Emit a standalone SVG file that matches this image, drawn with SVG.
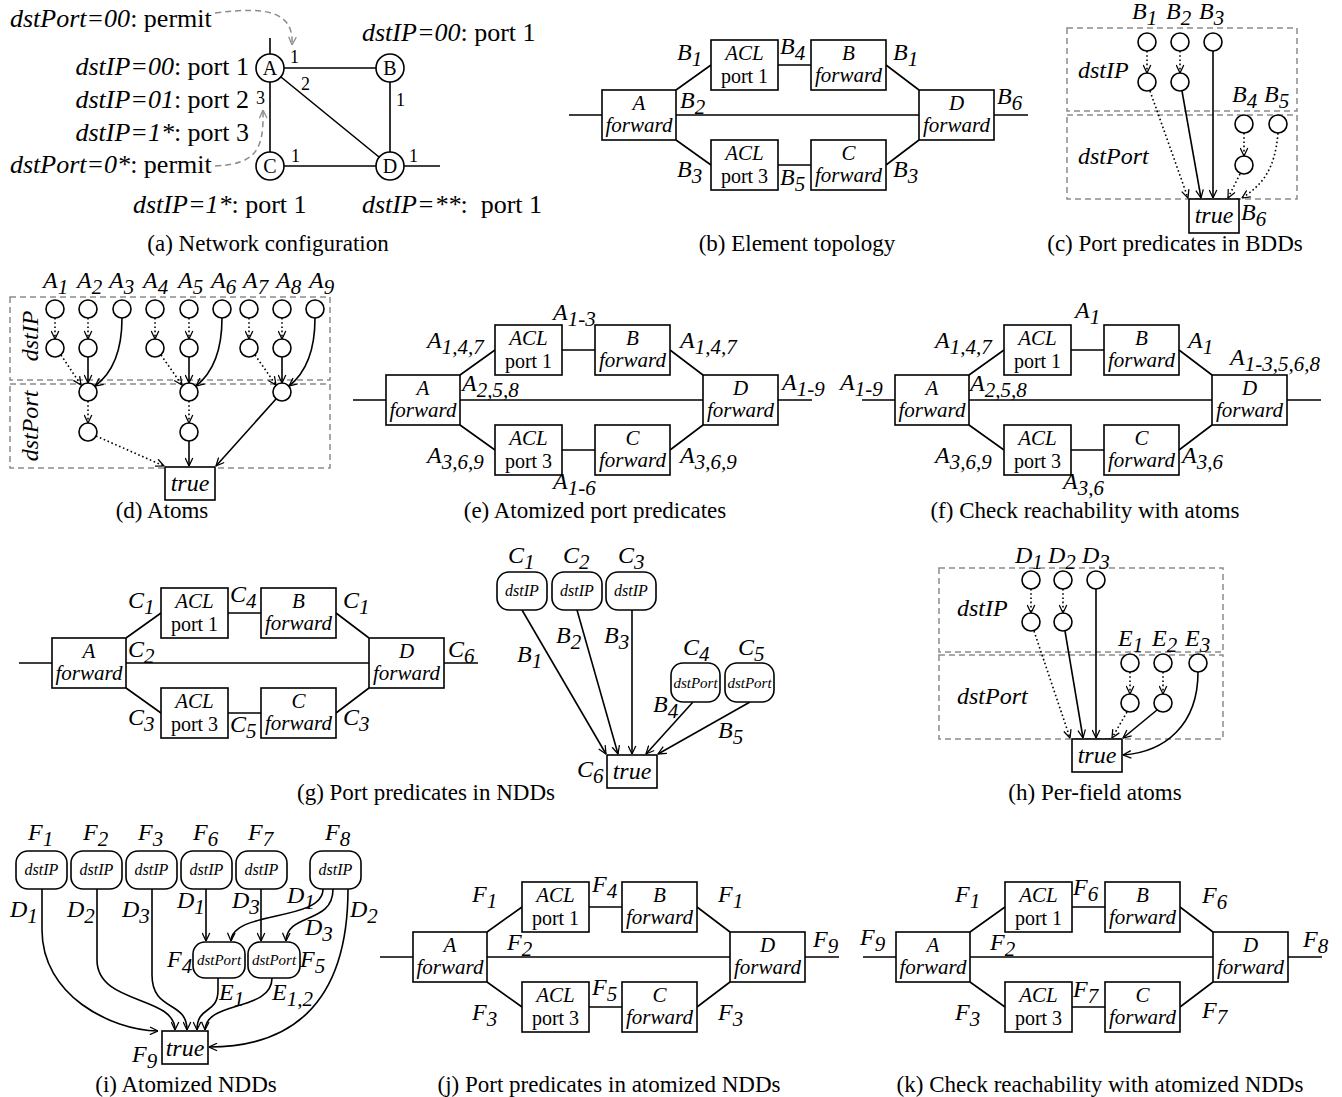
<svg xmlns="http://www.w3.org/2000/svg" width="1342" height="1097" viewBox="0 0 1342 1097">
<defs>
<style>
text{font-family:"Liberation Serif","Times New Roman",serif;fill:#000}
.lb{font-size:24px;font-style:italic}
.sb{font-size:21px}
.cap{font-size:23px;text-anchor:middle}
.bx{font-size:20px;text-anchor:middle}
.it{font-style:italic}
.bx.it{font-size:21px}
.cf{font-size:26px}
.pn{font-size:18px}
.nl{font-size:20px;text-anchor:middle}
.box{fill:#fff;stroke:#000;stroke-width:1.6}
.nd{fill:#fff;stroke:#000;stroke-width:1.6}
.ln{fill:none;stroke:#000;stroke-width:1.6}
.dt{fill:none;stroke:#000;stroke-width:1.6;stroke-dasharray:1.6 2.6}
.gd{fill:none;stroke:#8c8c8c;stroke-width:1.5;stroke-dasharray:6 4}
.fb{fill:none;stroke:#8c8c8c;stroke-width:1.5;stroke-dasharray:6 4}
.ar{marker-end:url(#ah)}
.rt{font-size:16px;font-style:italic;text-anchor:middle}
.rp{font-size:15px;font-style:italic;text-anchor:middle}
.tr{font-size:24px;font-style:italic;text-anchor:middle}
</style>
<marker id="ah" viewBox="0 0 10 10" refX="9.5" refY="5" markerWidth="9" markerHeight="9" markerUnits="userSpaceOnUse" orient="auto">
<path d="M0.5,0.8 L9.5,5 L0.5,9.2" fill="none" stroke="#000" stroke-width="1.4" stroke-dasharray="none"/>
</marker>
<marker id="ahg" viewBox="0 0 10 10" refX="9.5" refY="5" markerWidth="9" markerHeight="9" markerUnits="userSpaceOnUse" orient="auto">
<path d="M0.5,0.8 L9.5,5 L0.5,9.2" fill="none" stroke="#8c8c8c" stroke-width="1.4" stroke-dasharray="none"/>
</marker>
</defs>
<rect width="1342" height="1097" fill="#fff"/>

<!-- (a) Network configuration -->
<g id="panel-a">
 <g id="a-connectors">
  <path class="ln" d="M270,38V54 M284,68H376 M281,77L379,157 M270,82V152 M390,82V152 M284,166H376 M404,166H440"/>
  <path class="gd" d="M215,13 C268,6 294,12 292,45" marker-end="url(#ahg)"/>
  <path class="gd" d="M215,166 C256,164 264,150 263,110" marker-end="url(#ahg)"/>
 </g>
 <g id="a-A"><circle class="nd" cx="270" cy="68" r="14"/><text class="nl" x="270" y="75">A</text></g>
 <g id="a-B"><circle class="nd" cx="390" cy="68" r="14"/><text class="nl" x="390" y="75">B</text></g>
 <g id="a-C"><circle class="nd" cx="270" cy="166" r="14"/><text class="nl" x="270" y="173">C</text></g>
 <g id="a-D"><circle class="nd" cx="390" cy="166" r="14"/><text class="nl" x="390" y="173">D</text></g>
 <text class="pn" x="290" y="63">1</text>
 <text class="pn" x="301" y="90">2</text>
 <text class="pn" x="256" y="104">3</text>
 <text class="pn" x="396" y="106">1</text>
 <text class="pn" x="291" y="162">1</text>
 <text class="pn" x="409" y="162">1</text>
 <text class="cf" x="10" y="27"><tspan class="it">dstPort=00</tspan>: permit</text>
 <text class="cf" x="249" y="75" text-anchor="end"><tspan class="it">dstIP=00</tspan>: port 1</text>
 <text class="cf" x="249" y="108" text-anchor="end"><tspan class="it">dstIP=01</tspan>: port 2</text>
 <text class="cf" x="249" y="141" text-anchor="end"><tspan class="it">dstIP=1*</tspan>: port 3</text>
 <text class="cf" x="10" y="173"><tspan class="it">dstPort=0*</tspan>: permit</text>
 <text class="cf" x="362" y="41"><tspan class="it">dstIP=00</tspan>: port 1</text>
 <text class="cf" x="133" y="213"><tspan class="it">dstIP=1*</tspan>: port 1</text>
 <text class="cf" x="362" y="213" style="white-space:pre"><tspan class="it">dstIP=**</tspan>:  port 1</text>
 <text class="cap" x="268" y="251">(a) Network configuration</text>
</g>

<!-- (b) Element topology -->
<g id="panel-b" transform="translate(602,90)">
 <g id="b-links"><path class="ln" d="M-33,25H0M74,25H317M392,25H426M74,0L109,-25M176,-25H209M284,-25L317,0M74,50L109,75M176,75H209M284,75L317,50"/></g>
 <g id="b-A"><rect class="box" x="0" y="0" width="74" height="50"/><text class="bx it" x="37" y="20">A</text><text class="bx it" x="37" y="42">forward</text></g>
 <g id="b-acl1"><rect class="box" x="109" y="-50" width="67" height="50"/><text class="bx it" x="142.5" y="-30">ACL</text><text class="bx" x="142.5" y="-7">port 1</text></g>
 <g id="b-B"><rect class="box" x="209" y="-50" width="75" height="50"/><text class="bx it" x="246.5" y="-30">B</text><text class="bx it" x="246.5" y="-8">forward</text></g>
 <g id="b-D"><rect class="box" x="317" y="0" width="75" height="50"/><text class="bx it" x="354.5" y="20">D</text><text class="bx it" x="354.5" y="42">forward</text></g>
 <g id="b-acl3"><rect class="box" x="109" y="50" width="67" height="50"/><text class="bx it" x="142.5" y="70">ACL</text><text class="bx" x="142.5" y="93">port 3</text></g>
 <g id="b-C"><rect class="box" x="209" y="50" width="75" height="50"/><text class="bx it" x="246.5" y="70">C</text><text class="bx it" x="246.5" y="92">forward</text></g>
 <text class="lb" x="75" y="-30">B<tspan class="sb" dy="6">1</tspan></text>
 <text class="lb" x="178" y="-36">B<tspan class="sb" dy="6">4</tspan></text>
 <text class="lb" x="291" y="-30">B<tspan class="sb" dy="6">1</tspan></text>
 <text class="lb" x="78" y="18">B<tspan class="sb" dy="6">2</tspan></text>
 <text class="lb" x="395" y="14">B<tspan class="sb" dy="6">6</tspan></text>
 <text class="lb" x="75" y="87">B<tspan class="sb" dy="6">3</tspan></text>
 <text class="lb" x="178" y="95">B<tspan class="sb" dy="6">5</tspan></text>
 <text class="lb" x="291" y="87">B<tspan class="sb" dy="6">3</tspan></text>
</g>
<text class="cap" x="797" y="251">(b) Element topology</text>

<!-- (c) Port predicates in BDDs -->
<g id="panel-c">
 <rect class="fb" x="1067" y="28" width="230" height="83"/>
 <rect class="fb" x="1067" y="115" width="230" height="84"/>
 <text class="lb" x="1078" y="78">dstIP</text>
 <text class="lb" x="1078" y="164">dstPort</text>
 <g id="c-edges">
  <path class="dt ar" d="M1147,51V73"/>
  <path class="dt ar" d="M1180,51V73"/>
  <path class="ln ar" d="M1213,51V198"/>
  <path class="dt ar" d="M1150,91L1188,198"/>
  <path class="ln ar" d="M1182,91L1201,198"/>
  <path class="dt ar" d="M1244,133V156"/>
  <path class="dt ar" d="M1240,174L1228,198"/>
  <path class="dt ar" d="M1278,133C1275,170 1262,185 1242,198"/>
 </g>
 <g id="c-n1"><circle class="nd" cx="1147" cy="42" r="9"/></g>
 <g id="c-n2"><circle class="nd" cx="1180" cy="42" r="9"/></g>
 <g id="c-n3"><circle class="nd" cx="1213" cy="42" r="9"/></g>
 <g id="c-n4"><circle class="nd" cx="1147" cy="82" r="9"/></g>
 <g id="c-n5"><circle class="nd" cx="1180" cy="82" r="9"/></g>
 <g id="c-n6"><circle class="nd" cx="1244" cy="124" r="9"/></g>
 <g id="c-n7"><circle class="nd" cx="1278" cy="124" r="9"/></g>
 <g id="c-n8"><circle class="nd" cx="1244" cy="165" r="9"/></g>
 <g id="c-true"><rect class="box" x="1189" y="199" width="50" height="34"/><text class="tr" x="1214" y="223">true</text></g>
 <text class="lb" x="1132" y="19">B<tspan class="sb" dy="6">1</tspan></text>
 <text class="lb" x="1166" y="19">B<tspan class="sb" dy="6">2</tspan></text>
 <text class="lb" x="1199" y="19">B<tspan class="sb" dy="6">3</tspan></text>
 <text class="lb" x="1232" y="102">B<tspan class="sb" dy="6">4</tspan></text>
 <text class="lb" x="1264" y="102">B<tspan class="sb" dy="6">5</tspan></text>
 <text class="lb" x="1241" y="220">B<tspan class="sb" dy="6">6</tspan></text>
 <text class="cap" x="1175" y="251">(c) Port predicates in BDDs</text>
</g>

<!-- (d) Atoms -->
<g id="panel-d">
 <rect class="fb" x="10" y="297" width="320" height="83"/>
 <rect class="fb" x="10" y="384" width="320" height="84"/>
 <text class="lb" x="38" y="336" text-anchor="middle" transform="rotate(-90 38 336)">dstIP</text>
 <text class="lb" x="38" y="426" text-anchor="middle" transform="rotate(-90 38 426)">dstPort</text>
 <g id="d-edges">
  <path class="dt ar" d="M55,318V339"/>
  <path class="dt ar" d="M88,318V339"/>
  <path class="dt ar" d="M155,318V339"/>
  <path class="dt ar" d="M189,318V339"/>
  <path class="dt ar" d="M249,318V339"/>
  <path class="dt ar" d="M282,318V339"/>
  <path class="dt ar" d="M61,355L81,385"/>
  <path class="ln ar" d="M88,357V383"/>
  <path class="ln ar" d="M122,318C122,355 110,375 95,386"/>
  <path class="dt ar" d="M161,355L182,385"/>
  <path class="ln ar" d="M189,357V383"/>
  <path class="ln ar" d="M222,318C222,355 210,375 196,386"/>
  <path class="dt ar" d="M255,355L276,385"/>
  <path class="ln ar" d="M282,357V383"/>
  <path class="ln ar" d="M315,318C315,355 303,375 289,386"/>
  <path class="dt ar" d="M88,401V423"/>
  <path class="dt ar" d="M189,401V423"/>
  <path class="dt ar" d="M96,436L164,466"/>
  <path class="ln ar" d="M189,441V466"/>
  <path class="ln ar" d="M276,399L216,466"/>
 </g>
 <g id="d-r1a"><circle class="nd" cx="55" cy="309" r="9"/></g>
 <g id="d-r1b"><circle class="nd" cx="88" cy="309" r="9"/></g>
 <g id="d-r1c"><circle class="nd" cx="122" cy="309" r="9"/></g>
 <g id="d-r1d"><circle class="nd" cx="155" cy="309" r="9"/></g>
 <g id="d-r1e"><circle class="nd" cx="189" cy="309" r="9"/></g>
 <g id="d-r1f"><circle class="nd" cx="222" cy="309" r="9"/></g>
 <g id="d-r1g"><circle class="nd" cx="249" cy="309" r="9"/></g>
 <g id="d-r1h"><circle class="nd" cx="282" cy="309" r="9"/></g>
 <g id="d-r1i"><circle class="nd" cx="315" cy="309" r="9"/></g>
 <g id="d-r2a"><circle class="nd" cx="55" cy="348" r="9"/></g>
 <g id="d-r2b"><circle class="nd" cx="88" cy="348" r="9"/></g>
 <g id="d-r2c"><circle class="nd" cx="155" cy="348" r="9"/></g>
 <g id="d-r2d"><circle class="nd" cx="189" cy="348" r="9"/></g>
 <g id="d-r2e"><circle class="nd" cx="249" cy="348" r="9"/></g>
 <g id="d-r2f"><circle class="nd" cx="282" cy="348" r="9"/></g>
 <g id="d-r3a"><circle class="nd" cx="88" cy="392" r="9"/></g>
 <g id="d-r3b"><circle class="nd" cx="189" cy="392" r="9"/></g>
 <g id="d-r3c"><circle class="nd" cx="282" cy="392" r="9"/></g>
 <g id="d-r4a"><circle class="nd" cx="88" cy="432" r="9"/></g>
 <g id="d-r4b"><circle class="nd" cx="189" cy="432" r="9"/></g>
 <g id="d-true"><rect class="box" x="165" y="467" width="50" height="33"/><text class="tr" x="190" y="491">true</text></g>
 <text class="lb" x="43" y="288">A<tspan class="sb" dy="6">1</tspan></text>
 <text class="lb" x="77" y="288">A<tspan class="sb" dy="6">2</tspan></text>
 <text class="lb" x="109" y="288">A<tspan class="sb" dy="6">3</tspan></text>
 <text class="lb" x="143" y="288">A<tspan class="sb" dy="6">4</tspan></text>
 <text class="lb" x="178" y="288">A<tspan class="sb" dy="6">5</tspan></text>
 <text class="lb" x="211" y="288">A<tspan class="sb" dy="6">6</tspan></text>
 <text class="lb" x="243" y="288">A<tspan class="sb" dy="6">7</tspan></text>
 <text class="lb" x="276" y="288">A<tspan class="sb" dy="6">8</tspan></text>
 <text class="lb" x="309" y="288">A<tspan class="sb" dy="6">9</tspan></text>
 <text class="cap" x="162" y="518">(d) Atoms</text>
</g>

<!-- (e) Atomized port predicates -->
<g id="panel-e" transform="translate(386,375)">
 <g id="e-links"><path class="ln" d="M-33,25H0M74,25H317M392,25H426M74,0L109,-25M176,-25H209M284,-25L317,0M74,50L109,75M176,75H209M284,75L317,50"/></g>
 <g id="e-A"><rect class="box" x="0" y="0" width="74" height="50"/><text class="bx it" x="37" y="20">A</text><text class="bx it" x="37" y="42">forward</text></g>
 <g id="e-acl1"><rect class="box" x="109" y="-50" width="67" height="50"/><text class="bx it" x="142.5" y="-30">ACL</text><text class="bx" x="142.5" y="-7">port 1</text></g>
 <g id="e-B"><rect class="box" x="209" y="-50" width="75" height="50"/><text class="bx it" x="246.5" y="-30">B</text><text class="bx it" x="246.5" y="-8">forward</text></g>
 <g id="e-D"><rect class="box" x="317" y="0" width="75" height="50"/><text class="bx it" x="354.5" y="20">D</text><text class="bx it" x="354.5" y="42">forward</text></g>
 <g id="e-acl3"><rect class="box" x="109" y="50" width="67" height="50"/><text class="bx it" x="142.5" y="70">ACL</text><text class="bx" x="142.5" y="93">port 3</text></g>
 <g id="e-C"><rect class="box" x="209" y="50" width="75" height="50"/><text class="bx it" x="246.5" y="70">C</text><text class="bx it" x="246.5" y="92">forward</text></g>
 <text class="lb" x="167" y="-55">A<tspan class="sb" dy="6">1-3</tspan></text>
 <text class="lb" x="41" y="-27">A<tspan class="sb" dy="6">1,4,7</tspan></text>
 <text class="lb" x="294" y="-27">A<tspan class="sb" dy="6">1,4,7</tspan></text>
 <text class="lb" x="76" y="16">A<tspan class="sb" dy="6">2,5,8</tspan></text>
 <text class="lb" x="396" y="15">A<tspan class="sb" dy="6">1-9</tspan></text>
 <text class="lb" x="41" y="88">A<tspan class="sb" dy="6">3,6,9</tspan></text>
 <text class="lb" x="294" y="88">A<tspan class="sb" dy="6">3,6,9</tspan></text>
 <text class="lb" x="167" y="114">A<tspan class="sb" dy="6">1-6</tspan></text>
</g>
<text class="cap" x="595" y="518">(e) Atomized port predicates</text>

<!-- (f) Check reachability with atoms -->
<g id="panel-f" transform="translate(895,375)">
 <g id="f-links"><path class="ln" d="M-33,25H0M74,25H317M392,25H426M74,0L109,-25M176,-25H209M284,-25L317,0M74,50L109,75M176,75H209M284,75L317,50"/></g>
 <g id="f-A"><rect class="box" x="0" y="0" width="74" height="50"/><text class="bx it" x="37" y="20">A</text><text class="bx it" x="37" y="42">forward</text></g>
 <g id="f-acl1"><rect class="box" x="109" y="-50" width="67" height="50"/><text class="bx it" x="142.5" y="-30">ACL</text><text class="bx" x="142.5" y="-7">port 1</text></g>
 <g id="f-B"><rect class="box" x="209" y="-50" width="75" height="50"/><text class="bx it" x="246.5" y="-30">B</text><text class="bx it" x="246.5" y="-8">forward</text></g>
 <g id="f-D"><rect class="box" x="317" y="0" width="75" height="50"/><text class="bx it" x="354.5" y="20">D</text><text class="bx it" x="354.5" y="42">forward</text></g>
 <g id="f-acl3"><rect class="box" x="109" y="50" width="67" height="50"/><text class="bx it" x="142.5" y="70">ACL</text><text class="bx" x="142.5" y="93">port 3</text></g>
 <g id="f-C"><rect class="box" x="209" y="50" width="75" height="50"/><text class="bx it" x="246.5" y="70">C</text><text class="bx it" x="246.5" y="92">forward</text></g>
 <text class="lb" x="180" y="-57">A<tspan class="sb" dy="6">1</tspan></text>
 <text class="lb" x="40" y="-27">A<tspan class="sb" dy="6">1,4,7</tspan></text>
 <text class="lb" x="293" y="-27">A<tspan class="sb" dy="6">1</tspan></text>
 <text class="lb" x="335" y="-10">A<tspan class="sb" dy="6">1-3,5,6,8</tspan></text>
 <text class="lb" x="-55" y="15">A<tspan class="sb" dy="6">1-9</tspan></text>
 <text class="lb" x="75" y="16">A<tspan class="sb" dy="6">2,5,8</tspan></text>
 <text class="lb" x="40" y="88">A<tspan class="sb" dy="6">3,6,9</tspan></text>
 <text class="lb" x="287" y="88">A<tspan class="sb" dy="6">3,6</tspan></text>
 <text class="lb" x="168" y="114">A<tspan class="sb" dy="6">3,6</tspan></text>
</g>
<text class="cap" x="1085" y="518">(f) Check reachability with atoms</text>

<!-- (g) Port predicates in NDDs: topology -->
<g id="panel-g" transform="translate(52,638)">
 <g id="g-links"><path class="ln" d="M-33,25H0M74,25H317M392,25H426M74,0L109,-25M176,-25H209M284,-25L317,0M74,50L109,75M176,75H209M284,75L317,50"/></g>
 <g id="g-A"><rect class="box" x="0" y="0" width="74" height="50"/><text class="bx it" x="37" y="20">A</text><text class="bx it" x="37" y="42">forward</text></g>
 <g id="g-acl1"><rect class="box" x="109" y="-50" width="67" height="50"/><text class="bx it" x="142.5" y="-30">ACL</text><text class="bx" x="142.5" y="-7">port 1</text></g>
 <g id="g-B"><rect class="box" x="209" y="-50" width="75" height="50"/><text class="bx it" x="246.5" y="-30">B</text><text class="bx it" x="246.5" y="-8">forward</text></g>
 <g id="g-D"><rect class="box" x="317" y="0" width="75" height="50"/><text class="bx it" x="354.5" y="20">D</text><text class="bx it" x="354.5" y="42">forward</text></g>
 <g id="g-acl3"><rect class="box" x="109" y="50" width="67" height="50"/><text class="bx it" x="142.5" y="70">ACL</text><text class="bx" x="142.5" y="93">port 3</text></g>
 <g id="g-C"><rect class="box" x="209" y="50" width="75" height="50"/><text class="bx it" x="246.5" y="70">C</text><text class="bx it" x="246.5" y="92">forward</text></g>
 <text class="lb" x="76" y="-30">C<tspan class="sb" dy="6">1</tspan></text>
 <text class="lb" x="178" y="-36">C<tspan class="sb" dy="6">4</tspan></text>
 <text class="lb" x="291" y="-30">C<tspan class="sb" dy="6">1</tspan></text>
 <text class="lb" x="76" y="19">C<tspan class="sb" dy="6">2</tspan></text>
 <text class="lb" x="396" y="19">C<tspan class="sb" dy="6">6</tspan></text>
 <text class="lb" x="76" y="87">C<tspan class="sb" dy="6">3</tspan></text>
 <text class="lb" x="178" y="94">C<tspan class="sb" dy="6">5</tspan></text>
 <text class="lb" x="291" y="87">C<tspan class="sb" dy="6">3</tspan></text>
</g>

<!-- (g) NDD -->
<g id="panel-g-ndd">
 <g id="g-ndd-edges">
  <path class="ln ar" d="M522,610L606,754"/>
  <path class="ln ar" d="M577,610L618,754"/>
  <path class="ln ar" d="M632,610V754"/>
  <path class="ln ar" d="M693,702L646,754"/>
  <path class="ln ar" d="M750,702L658,754"/>
 </g>
 <g id="g-c1"><rect class="box" x="497" y="572" width="50" height="38" rx="12"/><text class="rt" x="522" y="596">dstIP</text></g>
 <g id="g-c2"><rect class="box" x="552" y="572" width="50" height="38" rx="12"/><text class="rt" x="577" y="596">dstIP</text></g>
 <g id="g-c3"><rect class="box" x="606" y="572" width="50" height="38" rx="12"/><text class="rt" x="631" y="596">dstIP</text></g>
 <g id="g-c4"><rect class="box" x="671" y="663" width="49" height="39" rx="12"/><text class="rp" x="695.5" y="688">dstPort</text></g>
 <g id="g-c5"><rect class="box" x="725" y="663" width="49" height="39" rx="12"/><text class="rp" x="749.5" y="688">dstPort</text></g>
 <g id="g-c6"><rect class="box" x="607" y="755" width="50" height="33"/><text class="tr" x="632" y="779">true</text></g>
 <text class="lb" x="508" y="563">C<tspan class="sb" dy="6">1</tspan></text>
 <text class="lb" x="563" y="563">C<tspan class="sb" dy="6">2</tspan></text>
 <text class="lb" x="618" y="563">C<tspan class="sb" dy="6">3</tspan></text>
 <text class="lb" x="683" y="655">C<tspan class="sb" dy="6">4</tspan></text>
 <text class="lb" x="738" y="655">C<tspan class="sb" dy="6">5</tspan></text>
 <text class="lb" x="577" y="777">C<tspan class="sb" dy="6">6</tspan></text>
 <text class="lb" x="517" y="662">B<tspan class="sb" dy="6">1</tspan></text>
 <text class="lb" x="556" y="643">B<tspan class="sb" dy="6">2</tspan></text>
 <text class="lb" x="604" y="643">B<tspan class="sb" dy="6">3</tspan></text>
 <text class="lb" x="653" y="712">B<tspan class="sb" dy="6">4</tspan></text>
 <text class="lb" x="718" y="738">B<tspan class="sb" dy="6">5</tspan></text>
</g>
<text class="cap" x="426" y="800">(g) Port predicates in NDDs</text>

<!-- (h) Per-field atoms -->
<g id="panel-h">
 <rect class="fb" x="939" y="568" width="284" height="84"/>
 <rect class="fb" x="939" y="655" width="284" height="84"/>
 <text class="lb" x="957" y="616">dstIP</text>
 <text class="lb" x="957" y="704">dstPort</text>
 <g id="h-edges">
  <path class="dt ar" d="M1031,589V613"/>
  <path class="dt ar" d="M1063,589V613"/>
  <path class="ln ar" d="M1096,589V738"/>
  <path class="dt ar" d="M1034,631L1070,738"/>
  <path class="ln ar" d="M1065,631L1083,738"/>
  <path class="dt ar" d="M1130,672V694"/>
  <path class="dt ar" d="M1163,672V694"/>
  <path class="dt ar" d="M1127,712L1112,738"/>
  <path class="ln ar" d="M1157,710L1123,738"/>
  <path class="ln ar" d="M1198,672C1198,725 1165,752 1123,755"/>
 </g>
 <g id="h-d1"><circle class="nd" cx="1031" cy="580" r="9"/></g>
 <g id="h-d2"><circle class="nd" cx="1063" cy="580" r="9"/></g>
 <g id="h-d3"><circle class="nd" cx="1096" cy="580" r="9"/></g>
 <g id="h-d1b"><circle class="nd" cx="1031" cy="622" r="9"/></g>
 <g id="h-d2b"><circle class="nd" cx="1063" cy="622" r="9"/></g>
 <g id="h-e1"><circle class="nd" cx="1130" cy="663" r="9"/></g>
 <g id="h-e2"><circle class="nd" cx="1163" cy="663" r="9"/></g>
 <g id="h-e3"><circle class="nd" cx="1198" cy="663" r="9"/></g>
 <g id="h-e1b"><circle class="nd" cx="1130" cy="703" r="9"/></g>
 <g id="h-e2b"><circle class="nd" cx="1163" cy="703" r="9"/></g>
 <g id="h-true"><rect class="box" x="1072" y="739" width="50" height="33"/><text class="tr" x="1097" y="763">true</text></g>
 <text class="lb" x="1015" y="563">D<tspan class="sb" dy="6">1</tspan></text>
 <text class="lb" x="1048" y="563">D<tspan class="sb" dy="6">2</tspan></text>
 <text class="lb" x="1082" y="563">D<tspan class="sb" dy="6">3</tspan></text>
 <text class="lb" x="1118" y="646">E<tspan class="sb" dy="6">1</tspan></text>
 <text class="lb" x="1152" y="646">E<tspan class="sb" dy="6">2</tspan></text>
 <text class="lb" x="1185" y="646">E<tspan class="sb" dy="6">3</tspan></text>
 <text class="cap" x="1095" y="800">(h) Per-field atoms</text>
</g>

<!-- (i) Atomized NDDs -->
<g id="panel-i">
 <g id="i-edges">
  <path class="ln ar" d="M42,889V930C42,995 110,1030 158,1031"/>
  <path class="ln ar" d="M97,889V960C97,1005 175,995 175,1030"/>
  <path class="ln ar" d="M152,889V975C152,1012 187,1000 187,1030"/>
  <path class="ln ar" d="M206,889V941"/>
  <path class="ln ar" d="M261,889V941"/>
  <path class="ln ar" d="M323,889C323,922 232,910 231,941"/>
  <path class="ln ar" d="M333,889C333,925 287,912 286,941"/>
  <path class="ln ar" d="M348,889C348,1010 285,1047 209,1047"/>
  <path class="ln ar" d="M218,978V990C218,1015 197,1005 197,1030"/>
  <path class="ln ar" d="M272,978C272,1012 206,1000 205,1030"/>
 </g>
 <g id="i-f1"><rect class="box" x="16" y="851" width="51" height="38" rx="12"/><text class="rt" x="41.5" y="875">dstIP</text></g>
 <g id="i-f2"><rect class="box" x="71" y="851" width="51" height="38" rx="12"/><text class="rt" x="96.5" y="875">dstIP</text></g>
 <g id="i-f3"><rect class="box" x="126" y="851" width="51" height="38" rx="12"/><text class="rt" x="151.5" y="875">dstIP</text></g>
 <g id="i-f6"><rect class="box" x="181" y="851" width="51" height="38" rx="12"/><text class="rt" x="206.5" y="875">dstIP</text></g>
 <g id="i-f7"><rect class="box" x="236" y="851" width="51" height="38" rx="12"/><text class="rt" x="261.5" y="875">dstIP</text></g>
 <g id="i-f8"><rect class="box" x="310" y="851" width="51" height="38" rx="12"/><text class="rt" x="335.5" y="875">dstIP</text></g>
 <g id="i-f4"><rect class="box" x="193" y="942" width="52" height="36" rx="12"/><text class="rp" x="219" y="965">dstPort</text></g>
 <g id="i-f5"><rect class="box" x="248" y="942" width="52" height="36" rx="12"/><text class="rp" x="274" y="965">dstPort</text></g>
 <g id="i-f9"><rect class="box" x="162" y="1031" width="46" height="33"/><text class="tr" x="185" y="1056">true</text></g>
 <text class="lb" x="28" y="840">F<tspan class="sb" dy="6">1</tspan></text>
 <text class="lb" x="83" y="840">F<tspan class="sb" dy="6">2</tspan></text>
 <text class="lb" x="138" y="840">F<tspan class="sb" dy="6">3</tspan></text>
 <text class="lb" x="193" y="840">F<tspan class="sb" dy="6">6</tspan></text>
 <text class="lb" x="248" y="840">F<tspan class="sb" dy="6">7</tspan></text>
 <text class="lb" x="325" y="840">F<tspan class="sb" dy="6">8</tspan></text>
 <text class="lb" x="167" y="967">F<tspan class="sb" dy="6">4</tspan></text>
 <text class="lb" x="300" y="967">F<tspan class="sb" dy="6">5</tspan></text>
 <text class="lb" x="132" y="1062">F<tspan class="sb" dy="6">9</tspan></text>
 <text class="lb" x="10" y="917">D<tspan class="sb" dy="6">1</tspan></text>
 <text class="lb" x="67" y="917">D<tspan class="sb" dy="6">2</tspan></text>
 <text class="lb" x="122" y="917">D<tspan class="sb" dy="6">3</tspan></text>
 <text class="lb" x="177" y="908">D<tspan class="sb" dy="6">1</tspan></text>
 <text class="lb" x="232" y="908">D<tspan class="sb" dy="6">3</tspan></text>
 <text class="lb" x="287" y="903">D<tspan class="sb" dy="6">1</tspan></text>
 <text class="lb" x="305" y="935">D<tspan class="sb" dy="6">3</tspan></text>
 <text class="lb" x="350" y="917">D<tspan class="sb" dy="6">2</tspan></text>
 <text class="lb" x="219" y="1000">E<tspan class="sb" dy="6">1</tspan></text>
 <text class="lb" x="272" y="1000">E<tspan class="sb" dy="6">1,2</tspan></text>
 <text class="cap" x="186" y="1092">(i) Atomized NDDs</text>
</g>

<!-- (j) Port predicates in atomized NDDs -->
<g id="panel-j" transform="translate(413,932)">
 <g id="j-links"><path class="ln" d="M-33,25H0M74,25H317M392,25H426M74,0L109,-25M176,-25H209M284,-25L317,0M74,50L109,75M176,75H209M284,75L317,50"/></g>
 <g id="j-A"><rect class="box" x="0" y="0" width="74" height="50"/><text class="bx it" x="37" y="20">A</text><text class="bx it" x="37" y="42">forward</text></g>
 <g id="j-acl1"><rect class="box" x="109" y="-50" width="67" height="50"/><text class="bx it" x="142.5" y="-30">ACL</text><text class="bx" x="142.5" y="-7">port 1</text></g>
 <g id="j-B"><rect class="box" x="209" y="-50" width="75" height="50"/><text class="bx it" x="246.5" y="-30">B</text><text class="bx it" x="246.5" y="-8">forward</text></g>
 <g id="j-D"><rect class="box" x="317" y="0" width="75" height="50"/><text class="bx it" x="354.5" y="20">D</text><text class="bx it" x="354.5" y="42">forward</text></g>
 <g id="j-acl3"><rect class="box" x="109" y="50" width="67" height="50"/><text class="bx it" x="142.5" y="70">ACL</text><text class="bx" x="142.5" y="93">port 3</text></g>
 <g id="j-C"><rect class="box" x="209" y="50" width="75" height="50"/><text class="bx it" x="246.5" y="70">C</text><text class="bx it" x="246.5" y="92">forward</text></g>
 <text class="lb" x="59" y="-30">F<tspan class="sb" dy="6">1</tspan></text>
 <text class="lb" x="179" y="-40">F<tspan class="sb" dy="6">4</tspan></text>
 <text class="lb" x="305" y="-30">F<tspan class="sb" dy="6">1</tspan></text>
 <text class="lb" x="94" y="18">F<tspan class="sb" dy="6">2</tspan></text>
 <text class="lb" x="400" y="15">F<tspan class="sb" dy="6">9</tspan></text>
 <text class="lb" x="59" y="88">F<tspan class="sb" dy="6">3</tspan></text>
 <text class="lb" x="179" y="63">F<tspan class="sb" dy="6">5</tspan></text>
 <text class="lb" x="305" y="88">F<tspan class="sb" dy="6">3</tspan></text>
</g>
<text class="cap" x="609" y="1092">(j) Port predicates in atomized NDDs</text>

<!-- (k) Check reachability with atomized NDDs -->
<g id="panel-k" transform="translate(896,932)">
 <g id="k-links"><path class="ln" d="M-33,25H0M74,25H317M392,25H426M74,0L109,-25M176,-25H209M284,-25L317,0M74,50L109,75M176,75H209M284,75L317,50"/></g>
 <g id="k-A"><rect class="box" x="0" y="0" width="74" height="50"/><text class="bx it" x="37" y="20">A</text><text class="bx it" x="37" y="42">forward</text></g>
 <g id="k-acl1"><rect class="box" x="109" y="-50" width="67" height="50"/><text class="bx it" x="142.5" y="-30">ACL</text><text class="bx" x="142.5" y="-7">port 1</text></g>
 <g id="k-B"><rect class="box" x="209" y="-50" width="75" height="50"/><text class="bx it" x="246.5" y="-30">B</text><text class="bx it" x="246.5" y="-8">forward</text></g>
 <g id="k-D"><rect class="box" x="317" y="0" width="75" height="50"/><text class="bx it" x="354.5" y="20">D</text><text class="bx it" x="354.5" y="42">forward</text></g>
 <g id="k-acl3"><rect class="box" x="109" y="50" width="67" height="50"/><text class="bx it" x="142.5" y="70">ACL</text><text class="bx" x="142.5" y="93">port 3</text></g>
 <g id="k-C"><rect class="box" x="209" y="50" width="75" height="50"/><text class="bx it" x="246.5" y="70">C</text><text class="bx it" x="246.5" y="92">forward</text></g>
 <text class="lb" x="59" y="-30">F<tspan class="sb" dy="6">1</tspan></text>
 <text class="lb" x="177" y="-37">F<tspan class="sb" dy="6">6</tspan></text>
 <text class="lb" x="306" y="-29">F<tspan class="sb" dy="6">6</tspan></text>
 <text class="lb" x="-36" y="13">F<tspan class="sb" dy="6">9</tspan></text>
 <text class="lb" x="94" y="18">F<tspan class="sb" dy="6">2</tspan></text>
 <text class="lb" x="407" y="15">F<tspan class="sb" dy="6">8</tspan></text>
 <text class="lb" x="59" y="88">F<tspan class="sb" dy="6">3</tspan></text>
 <text class="lb" x="177" y="65">F<tspan class="sb" dy="6">7</tspan></text>
 <text class="lb" x="306" y="86">F<tspan class="sb" dy="6">7</tspan></text>
</g>
<text class="cap" x="1100" y="1092">(k) Check reachability with atomized NDDs</text>
</svg>
